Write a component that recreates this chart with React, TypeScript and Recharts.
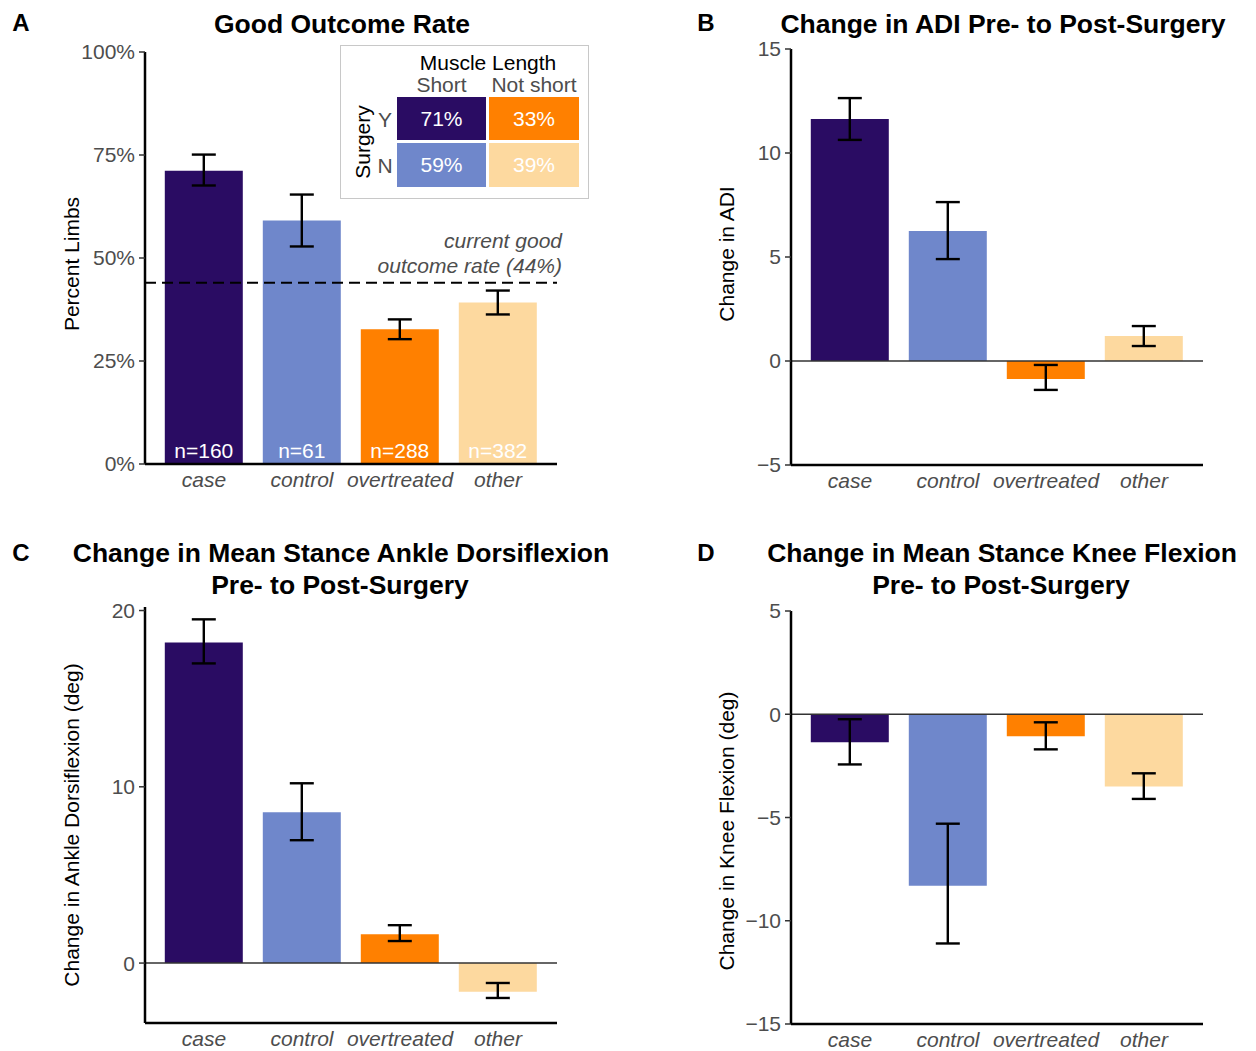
import React from 'react'
import { BarChart, Bar, XAxis, YAxis, Cell, ErrorBar, ReferenceLine, LabelList } from 'recharts'

// groups and their colours
const categories = ['case', 'control', 'overtreated', 'other']
const colors = ['#2a0c63', '#6f87cb', '#ff8000', '#fdd99f']

// A: good outcome rate (fraction) with CI
const goodRate = [0.712, 0.591, 0.327, 0.392]
const goodRateLow = [0.676, 0.528, 0.303, 0.363]
const goodRateHigh = [0.751, 0.654, 0.351, 0.421]
const nLimbs = [160, 61, 288, 382]
const currentRate = 0.44

// inset table (surgery x muscle length)
const insetCols = ['Short', 'Not short']
const insetRows = ['Y', 'N']
const insetValues = [
  [71, 33],
  [59, 39],
]
const insetColors = [
  ['#2a0c63', '#ff8000'],
  ['#6f87cb', '#fdd99f'],
]

// B: change in ADI
const adiChange = [11.63, 6.25, -0.87, 1.2]
const adiLow = [10.63, 4.9, -1.39, 0.72]
const adiHigh = [12.64, 7.64, -0.19, 1.68]

// C: change in ankle dorsiflexion
const ankleChange = [18.19, 8.56, 1.64, -1.63]
const ankleLow = [17.0, 6.97, 1.25, -1.98]
const ankleHigh = [19.5, 10.2, 2.15, -1.13]

// D: change in knee flexion
const kneeChange = [-1.36, -8.3, -1.07, -3.5]
const kneeLow = [-2.43, -11.1, -1.7, -4.1]
const kneeHigh = [-0.24, -5.3, -0.39, -2.86]

const FONT = '"Liberation Sans", Arial, Helvetica, sans-serif'
const GREY = '#4d4d4d'

type Row = { name: string; value: number; low: number; high: number; n?: string }

const makeRows = (values: number[], lows: number[], highs: number[], ns?: number[]): Row[] =>
  categories.map((name, i) => ({
    name,
    value: values[i],
    low: lows[i],
    high: highs[i],
    n: ns ? `n=${ns[i]}` : undefined,
  }))

const errKey = (d: Row) => [d.value - d.low, d.high - d.value]
const minus = (v: number) => String(v).replace('-', '\u2212')
const pct = (v: number) => `${Math.round(v * 100)}%`

type PanelProps = {
  left: number
  top: number
  width: number
  height: number
  plot: { x0: number; x1: number; y0: number; y1: number }
  rows: Row[]
  domain: [number, number]
  ticks: number[]
  tickFormatter: (v: number) => string
  zeroLine?: boolean
  showN?: boolean
  children?: React.ReactNode
}

function Panel({ left, top, width, height, plot, rows, domain, ticks, tickFormatter, zeroLine, showN, children }: PanelProps) {
  const yAxisWidth = 60
  const xAxisHeight = 26
  const margin = {
    top: plot.y0 - top,
    bottom: top + height - plot.y1 - xAxisHeight,
    left: plot.x0 - left - yAxisWidth,
    right: left + width - plot.x1,
  }
  return (
    <div style={{ position: 'absolute', left, top }}>
      <BarChart width={width} height={height} data={rows} margin={margin} barCategoryGap="10%">
        <XAxis
          dataKey="name"
          height={xAxisHeight}
          padding={{ left: 10, right: 10 }}
          tickLine={false}
          interval={0}
          axisLine={{ stroke: '#000', strokeWidth: 2.5 }}
          tick={{ fill: GREY, fontSize: 21, fontStyle: 'italic', fontFamily: FONT }}
        />
        <YAxis
          width={yAxisWidth}
          type="number"
          domain={domain}
          ticks={ticks}
          allowDataOverflow
          tickFormatter={tickFormatter}
          tickMargin={4}
          axisLine={{ stroke: '#000', strokeWidth: 2.5 }}
          tickLine={{ stroke: '#333', strokeWidth: 1.5 }}
          tick={{ fill: GREY, fontSize: 21, fontFamily: FONT }}
        />
        {zeroLine && <ReferenceLine y={0} stroke="#333" strokeWidth={1.5} />}
        <Bar dataKey="value" isAnimationActive={false}>
          {rows.map((r, i) => (
            <Cell key={r.name} fill={colors[i]} />
          ))}
          <ErrorBar dataKey={errKey} width={12} stroke="#000" strokeWidth={2.4} direction="y" />
          {showN && (
            <LabelList dataKey="n" position="insideBottom" offset={6} fill="#fff" fontSize={21} fontFamily={FONT} />
          )}
        </Bar>
        {children}
      </BarChart>
    </div>
  )
}

const RateLabel = (props: any) => {
  const vb = props.viewBox || {}
  const x = (vb.x ?? 0) + (vb.width ?? 0) + 5
  const y = vb.y ?? 0
  const style = { fill: GREY, fontSize: 21, fontStyle: 'italic', fontFamily: FONT } as React.CSSProperties
  return (
    <g>
      <text x={x} y={y - 35} textAnchor="end" style={style}>
        current good
      </text>
      <text x={x} y={y - 10} textAnchor="end" style={style}>
        {`outcome rate (${pct(currentRate)})`}
      </text>
    </g>
  )
}

function Text({ x, y, children, size = 20, bold, color = '#000', rotate, italic }: any) {
  return (
    <div
      style={{
        position: 'absolute',
        left: x,
        top: y,
        transform: `translate(-50%, -50%)${rotate ? ' rotate(-90deg)' : ''}`,
        whiteSpace: 'nowrap',
        fontFamily: FONT,
        fontSize: size,
        fontWeight: bold ? 'bold' : 'normal',
        fontStyle: italic ? 'italic' : 'normal',
        color,
        lineHeight: 1,
      }}
    >
      {children}
    </div>
  )
}

function Inset() {
  const colX = [397, 489]
  const rowY = [97, 143]
  const cw = [89, 90]
  const ch = [43, 44]
  return (
    <>
      <div
        style={{
          position: 'absolute',
          left: 340,
          top: 45,
          width: 247,
          height: 152,
          border: '1px solid #c8c8c8',
          background: '#fff',
        }}
      />
      <Text x={488} y={62} size={21}>Muscle Length</Text>
      {insetCols.map((c, j) => (
        <Text key={c} x={colX[j] + cw[j] / 2} y={84} size={21} color={GREY}>
          {c}
        </Text>
      ))}
      <Text x={362} y={142} size={21} rotate>
        Surgery
      </Text>
      {insetRows.map((r, i) => (
        <Text key={r} x={385} y={rowY[i] + ch[i] / 2} size={21} color={GREY}>
          {r}
        </Text>
      ))}
      {insetValues.map((row, i) =>
        row.map((v, j) => (
          <div
            key={`${i}-${j}`}
            style={{
              position: 'absolute',
              left: colX[j],
              top: rowY[i],
              width: cw[j],
              height: ch[i],
              background: insetColors[i][j],
              color: '#fff',
              fontFamily: FONT,
              fontSize: 21,
              display: 'flex',
              alignItems: 'center',
              justifyContent: 'center',
            }}
          >
            {`${v}%`}
          </div>
        ))
      )}
    </>
  )
}

export default function App() {
  const rowsA = makeRows(goodRate, goodRateLow, goodRateHigh, nLimbs)
  const rowsB = makeRows(adiChange, adiLow, adiHigh)
  const rowsC = makeRows(ankleChange, ankleLow, ankleHigh)
  const rowsD = makeRows(kneeChange, kneeLow, kneeHigh)

  return (
    <div style={{ position: 'absolute', left: 0, top: 0, width: 1256, height: 1051, background: '#fff', overflow: 'hidden' }}>
      <Panel
        left={0}
        top={0}
        width={628}
        height={520}
        plot={{ x0: 145, x1: 557, y0: 52, y1: 464 }}
        rows={rowsA}
        domain={[0, 1]}
        ticks={[0, 0.25, 0.5, 0.75, 1]}
        tickFormatter={pct}
        showN
      >
        <ReferenceLine
          y={currentRate}
          stroke="#000"
          strokeWidth={2}
          strokeDasharray="11 6"
          label={<RateLabel />}
        />
      </Panel>
      <Panel
        left={628}
        top={0}
        width={628}
        height={520}
        plot={{ x0: 791, x1: 1203, y0: 49, y1: 465 }}
        rows={rowsB}
        domain={[-5, 15]}
        ticks={[-5, 0, 5, 10, 15]}
        tickFormatter={minus}
        zeroLine
      />
      <Panel
        left={0}
        top={520}
        width={628}
        height={531}
        plot={{ x0: 145, x1: 557, y0: 607, y1: 1023 }}
        rows={rowsC}
        domain={[-3.4, 20.2]}
        ticks={[0, 10, 20]}
        tickFormatter={minus}
        zeroLine
      />
      <Panel
        left={628}
        top={520}
        width={628}
        height={531}
        plot={{ x0: 791, x1: 1203, y0: 611, y1: 1024 }}
        rows={rowsD}
        domain={[-15, 5]}
        ticks={[-15, -10, -5, 0, 5]}
        tickFormatter={minus}
        zeroLine
      />

      <Inset />

      <Text x={21} y={23} size={24} bold>A</Text>
      <Text x={706} y={23} size={24} bold>B</Text>
      <Text x={21} y={553} size={24} bold>C</Text>
      <Text x={706} y={553} size={24} bold>D</Text>

      <Text x={342} y={24} size={26.5} bold>Good Outcome Rate</Text>
      <Text x={1003} y={24} size={26.5} bold>Change in ADI Pre- to Post-Surgery</Text>
      <Text x={341} y={553} size={26.5} bold>Change in Mean Stance Ankle Dorsiflexion</Text>
      <Text x={340} y={585} size={26.5} bold>Pre- to Post-Surgery</Text>
      <Text x={1002} y={553} size={26.5} bold>Change in Mean Stance Knee Flexion</Text>
      <Text x={1001} y={585} size={26.5} bold>Pre- to Post-Surgery</Text>

      <Text x={71} y={264} size={21} rotate>Percent Limbs</Text>
      <Text x={726} y={254} size={21} rotate>Change in ADI</Text>
      <Text x={71} y={825} size={21} rotate>Change in Ankle Dorsiflexion (deg)</Text>
      <Text x={726} y={831} size={21} rotate>Change in Knee Flexion (deg)</Text>
    </div>
  )
}
